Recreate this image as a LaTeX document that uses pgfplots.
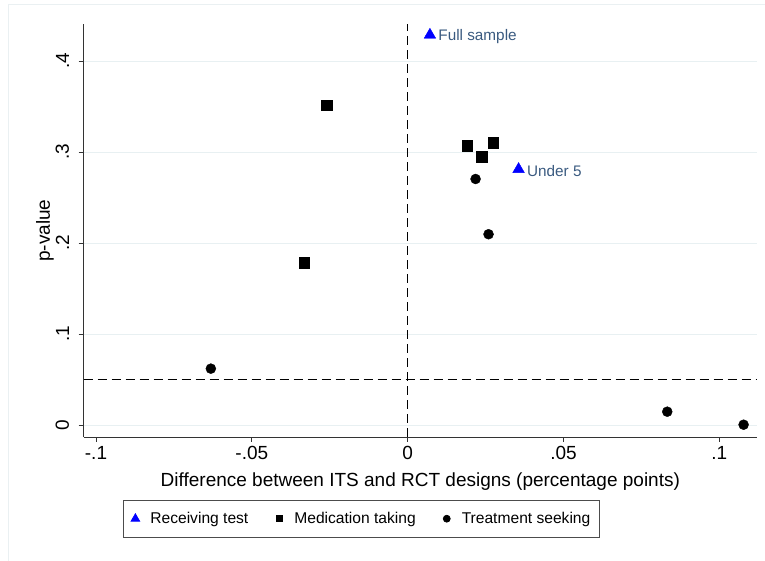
\documentclass[border=0pt]{standalone}
\usepackage{pgfplots}
\pgfplotsset{compat=1.18}
\usepackage{fontspec}
\setmainfont{Liberation Sans}
\definecolor{gridc}{RGB}{232,240,242}
\definecolor{labc}{RGB}{58,90,128}
\definecolor{framec}{RGB}{234,240,242}
\begin{document}
\begin{tikzpicture}[x=1pt,y=1pt]
\path[use as bounding box] (0,0) rectangle (765,561);
\draw[framec, line width=0.8pt] (8,0) -- (8,556.7) -- (765,556.7);
\begin{axis}[
  at={(83.7pt,124pt)}, anchor=south west,
  scale only axis, width=673.3pt, height=412.7pt,
  xmin=-0.10394, xmax=0.1121, ymin=-0.0132, ymax=0.4403,
  axis x line*=bottom, axis y line*=left,
  x axis line style={-, line width=0.8pt, black!80},
  y axis line style={-, line width=0.8pt, black!80},
  xtick={-0.1,-0.05,0,0.05,0.1},
  xticklabels={-.1,-.05,0,.05,.1},
  ytick={0,0.1,0.2,0.3,0.4},
  yticklabels={0,.1,.2,.3,.4},
  tick align=outside, major tick length=5pt,
  tick style={line width=0.8pt, black!80},
  ymajorgrids, grid style={gridc, line width=0.9pt},
  tick label style={font=\fontsize{19}{19}\selectfont},
  xticklabel style={yshift=-1pt},
  yticklabel style={rotate=90, anchor=south, yshift=6pt},
  xlabel={Difference between ITS and RCT designs (percentage points)},
  ylabel={p-value},
  label style={font=\fontsize{19}{22}\selectfont},
  xlabel style={yshift=-6pt},
  ylabel style={yshift=-5pt},
  clip=false,
  legend style={at={(0.4124,-0.198)}, anchor=center, legend columns=3,
    draw=black!70, line width=0.7pt, font=\fontsize{15.6}{18}\selectfont,
    inner xsep=7pt, inner ysep=10pt,
    /tikz/every even column/.append style={column sep=24pt}},
  legend image code/.code={\draw[#1] plot coordinates {(5pt,0pt)}; \path[draw=none,fill=none] (0pt,0pt) -- (18pt,0pt);},
]
\addplot[forget plot, line width=1.3pt, dash pattern=on 9pt off 5pt] coordinates {(0,-0.0132) (0,0.4403)};
\addplot[forget plot, line width=1.3pt, dash pattern=on 9pt off 5pt] coordinates {(-0.10394,0.0502) (0.1121,0.0502)};
\addplot[only marks, mark=triangle*, mark size=6.7pt, blue, mark options={fill=blue, draw=blue},
  nodes near coords, point meta=explicit symbolic,
  every node near coord/.style={anchor=west, xshift=5pt, yshift=-1.5pt, text=labc, font=\fontsize{15.3}{18}\selectfont},
  legend image post style={mark size=5pt}]
  coordinates {(0.00715,0.4286) [Full sample] (0.0356,0.281) [Under 5]};
\addlegendentry{Receiving test}
\addplot[only marks, mark=square*, mark size=5.3pt, black, legend image post style={mark size=3pt}]
  coordinates {(-0.02596,0.3513) (-0.03314,0.1784) (0.0191,0.3066) (0.02744,0.3102) (0.0238,0.2949)};
\addlegendentry{Medication taking}
\addplot[only marks, mark=*, mark size=5pt, black, legend image post style={mark size=3.5pt}]
  coordinates {(0.0218,0.2703) (0.02596,0.2096) (-0.06314,0.0619) (0.0833,0.0146) (0.1078,0.0003)};
\addlegendentry{Treatment seeking}
\end{axis}
\end{tikzpicture}
\end{document}
